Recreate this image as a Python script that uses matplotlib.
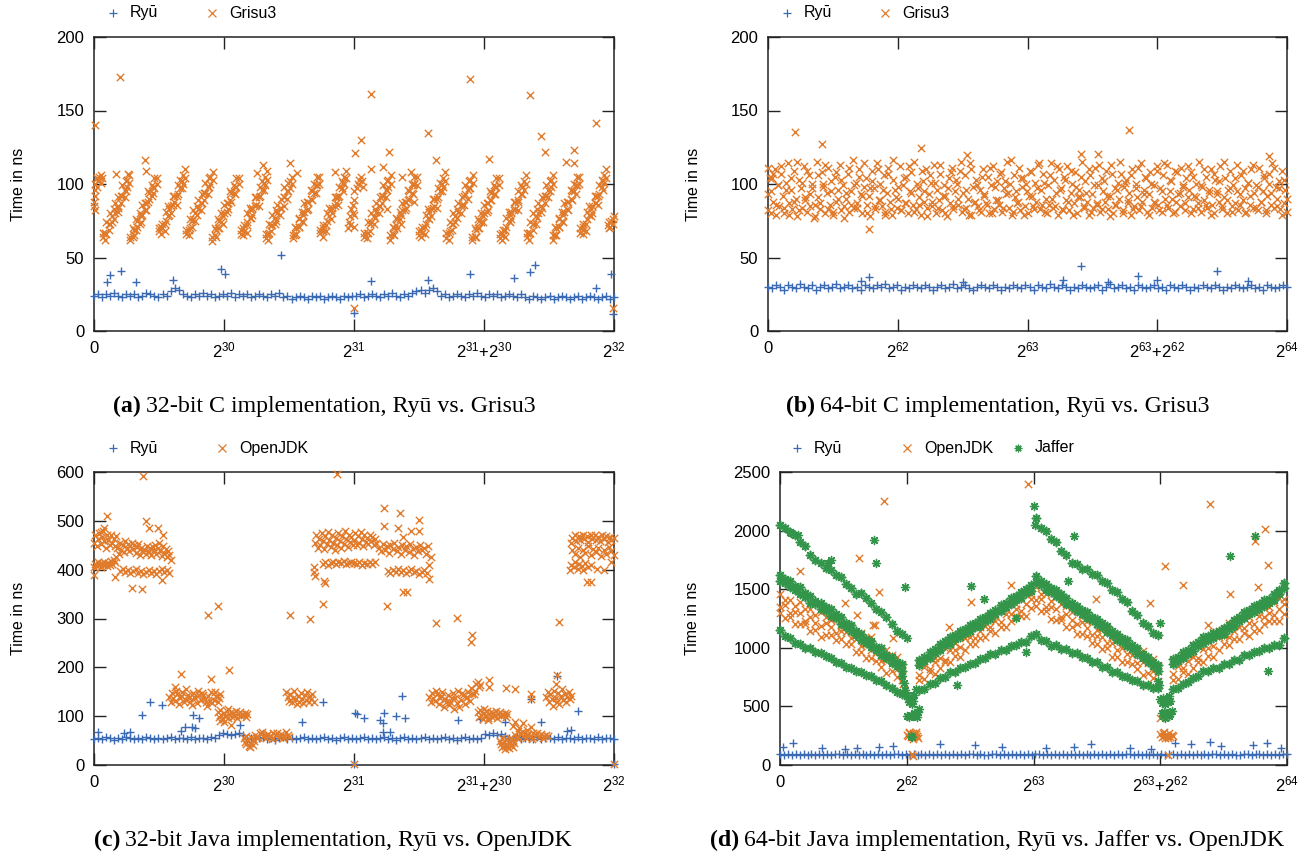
import numpy as np
import matplotlib.pyplot as plt
from matplotlib.lines import Line2D

# ---------------- data (x in units of 2^30 for 32-bit, 2^62 for 64-bit) ----------------
labels_32 = ['0', '$2^{30}$', '$2^{31}$', '$2^{31}$+$2^{30}$', '$2^{32}$']
labels_64 = ['0', '$2^{62}$', '$2^{63}$', '$2^{63}$+$2^{62}$', '$2^{64}$']

# (a) 32-bit C
a_ryu_band = [24,25,23,25,24,26,24,23,25,24,25,23,24,26,25,24,23,25,24,
              27,29,28,
              25,24,23,25,24,26,24,25,23,24,25,24,26,23,25,24,25,23,24,25,24,23,25,24,26,
              23,24,22,23,24,23,22,24,23,24,22,23,24,23,22,24,23,24,
              24,25,23,24,25,24,23,25,24,26,24,23,25,24,
              26,27,28,26,28,29,27,
              24,25,23,24,25,24,23,25,24,26,24,23,25,24,25,23,24,25,24,23,25,
              23,22,24,23,22,23,24,22,23,24,23,22,23,24,22,23,24,23,22,23,24,22,23]
a_ryu_out = [(0.10,33),(0.12,38),(0.205,40.6),(0.32,33),(0.61,34.5),(0.98,42.4),(1.01,38.5),
             (1.44,52),(2.0,12),(2.13,34),(2.57,35),(2.89,39),(3.23,36),(3.35,40),(3.39,44.7),
             (3.86,29.5),(3.98,38.5),(3.99,11.3)]
# each stripe: x positions, upper edge values, lower edge values
a_grisu_stripes = [
    ([.070,.088,.095,.115,.120,.140,.150,.159,.181,.188,.208,.215,.235,.244,.254,.272],
     [67,67,74,73,80,78,83,87,85,91,92,99,96,102,103,106],
     [64,62,66,69,73,74,76,80,81,84,87,92,91,95,98,101]),
    ([.280,.298,.305,.325,.330,.350,.360,.369,.391,.398,.418,.425,.445,.454,.464,.482],
     [64,70,69,76,75,80,78,86,87,87,95,94,99,98,104,104],
     [62,64,65,69,71,73,74,79,82,82,88,90,92,94,97,100]),
    ([.500,.518,.525,.545,.550,.570,.580,.589,.611,.618,.638,.645,.665,.674,.684,.702],
     [70,71,73,73,81,85,83,85,92,92,92,99,103,102,106,110],
     [68,66,70,68,75,78,79,80,86,88,86,93,97,97,100,104]),
    ([.710,.728,.735,.755,.760,.780,.790,.799,.821,.828,.848,.855,.875,.884,.894,.912],
     [69,69,76,75,82,80,85,89,87,93,94,101,98,104,105,108],
     [66,65,70,71,76,75,79,83,82,87,89,94,93,98,100,103]),
    ([.910,.928,.935,.955,.960,.980,.990,.999,1.021,1.028,1.048,1.055,1.075,1.084,1.094,1.112],
     [64,70,69,76,75,80,78,86,87,87,95,94,99,98,104,104],
     [61,65,64,70,70,74,73,80,81,83,89,88,94,93,98,100]),
    ([1.130,1.148,1.155,1.175,1.180,1.200,1.210,1.219,1.241,1.248,1.268,1.275,1.295,1.304,1.314,1.332],
     [69,70,72,72,80,84,82,84,91,91,91,98,102,101,105,109],
     [66,65,68,67,74,77,77,79,85,86,85,92,96,96,99,103]),
    ([1.320,1.338,1.345,1.365,1.370,1.390,1.400,1.409,1.431,1.438,1.458,1.465,1.485,1.494,1.504,1.522],
     [66,66,73,72,79,77,82,86,84,90,91,98,95,101,102,105],
     [63,62,67,68,72,73,75,80,79,84,85,91,90,95,97,100]),
    ([1.530,1.548,1.555,1.575,1.580,1.600,1.610,1.619,1.641,1.648,1.668,1.675,1.695,1.704,1.714,1.732],
     [65,71,70,77,76,81,79,87,88,88,96,95,100,99,105,105],
     [63,65,66,71,71,75,74,81,82,83,90,89,94,94,99,100]),
    ([1.740,1.758,1.765,1.785,1.790,1.810,1.820,1.829,1.851,1.858,1.878,1.885,1.905,1.914,1.924,1.942],
     [69,70,72,72,80,84,82,84,91,91,91,98,102,101,105,109],
     [67,64,68,68,75,78,76,80,85,87,86,92,97,95,100,104]),
    ([2.080,2.098,2.105,2.125,2.130,2.150,2.160,2.169,2.191,2.198,2.218,2.225,2.245,2.254,2.264,2.282],
     [67,67,74,73,80,78,83,87,85,91,92,99,96,102,103,106],
     [64,63,67,68,74,73,77,81,80,85,87,92,91,96,98,100]),
    ([2.280,2.298,2.305,2.325,2.330,2.350,2.360,2.369,2.391,2.398,2.418,2.425,2.445,2.454,2.464,2.482],
     [65,71,70,77,76,81,79,87,88,88,96,95,100,99,105,105],
     [62,66,65,72,70,76,73,82,82,84,89,90,94,93,100,99]),
    ([2.500,2.518,2.525,2.545,2.550,2.570,2.580,2.589,2.611,2.618,2.638,2.645,2.665,2.674,2.684,2.702],
     [68,69,71,71,79,83,81,83,90,90,90,97,101,100,104,108],
     [65,64,67,66,73,77,76,78,84,85,84,91,95,95,98,102]),
    ([2.710,2.728,2.735,2.755,2.760,2.780,2.790,2.799,2.821,2.828,2.848,2.855,2.875,2.884,2.894,2.912],
     [67,67,74,73,80,78,83,87,85,91,92,99,96,102,103,106],
     [63,62,68,69,73,74,77,81,80,86,86,93,90,97,97,101]),
    ([2.910,2.928,2.935,2.955,2.960,2.980,2.990,2.999,3.021,3.028,3.048,3.055,3.075,3.084,3.094,3.112],
     [64,70,69,76,75,80,78,86,87,87,95,94,99,98,104,104],
     [62,64,64,70,70,74,74,80,81,82,89,89,93,93,98,99]),
    ([3.120,3.138,3.145,3.165,3.170,3.190,3.200,3.209,3.231,3.238,3.258,3.265,3.285,3.294,3.304,3.322],
     [66,67,69,69,77,81,79,81,88,88,88,95,99,98,102,106],
     [63,62,65,64,71,75,74,76,82,83,82,89,93,93,96,100]),
    ([3.330,3.348,3.355,3.375,3.380,3.400,3.410,3.419,3.441,3.448,3.468,3.475,3.495,3.504,3.514,3.532],
     [67,67,74,73,80,78,83,87,85,91,92,99,96,102,103,106],
     [64,62,67,69,73,73,77,80,81,84,87,92,91,95,98,100]),
    ([3.530,3.548,3.555,3.575,3.580,3.600,3.610,3.619,3.641,3.648,3.668,3.675,3.695,3.704,3.714,3.732],
     [65,71,70,77,76,81,79,87,88,88,96,95,100,99,105,105],
     [62,65,65,71,71,75,74,81,83,82,90,89,95,93,99,100]),
    ([3.740,3.758,3.765,3.785,3.790,3.810,3.820,3.829,3.851,3.858,3.878,3.885,3.905,3.914,3.924,3.942],
     [70,71,73,73,81,85,83,85,92,92,92,99,103,102,106,110],
     [67,66,69,68,76,79,78,80,87,87,86,93,98,96,101,104]),
]
a_grisu_extra = [(0.0,85),(0.0,88),(0.005,82),(0.005,92),(0.01,96),(0.01,100),(0.02,104),(0.02,98),
                 (0.03,102),(0.035,105),(0.04,103),(0.05,106),(0.055,101),(0.06,104),
                 (1.95,70),(1.96,74),(1.97,78),(1.98,83),(1.99,86),(2.0,89),(2.0,95),(2.02,97),
                 (2.03,100),(2.04,103),(2.05,105),(2.06,102),(2.07,98),(1.97,72),(1.99,80),
                 (3.95,72),(3.96,74),(3.97,71),(3.98,75),(3.99,73),(4.0,78),(3.96,70),(3.99,76),
                 (0.01,140),(0.2,172.8),(0.39,116.5),(0.40,109),(1.51,114),(1.25,107.5),(1.30,113),
                 (2.01,121),(2.05,130),(2.13,161),(2.13,110),(2.27,122),(2.22,111.5),(2.57,135),
                 (2.63,116),(2.89,171.7),(3.04,116.8),(3.35,160.8),(3.44,132.7),(3.47,121.8),
                 (3.69,123),(3.63,115),(3.69,114.5),(3.86,141.7),(2.0,15.9),(3.99,15.9),
                 (2.0,71),(2.0,79),(0.17,107),(0.26,107),(1.85,108),(1.56,107.5),(2.25,83),
                 (2.37,105),(2.44,108),(2.46,88)]

# (b) 64-bit C
b_ryu_band = [30,29,31,30,28,31,30,29,32,30,29,31,28,30,31,29,30,32,29,30,
              31,29,30,28,31,30,29,31,30,32,29,30,31,28,30,29,31,30,29,31,
              30,28,30,31,29,30,32,29,30,31,29,28,30,31,30,29,31,30,28,30,
              29,31,30,29,31,30,28,31,30,29,32,30,29,31,30,28,30,29,31,30,
              29,30,31,28,30,32,29,30,31,29,30,28,31,30,29,30,31,29,30,28,
              31,30,29,31,30,28,30,29,31,30,29,31,30,28,30,29,31,30,29,30,
              31,29,30,28,31,30,29,30,31,30]
b_ryu_out = [(0.78,36.7),(2.41,44),(2.85,37.6),(3.46,40.8),(2.27,35),(3.0,34.5),(2.62,33),
             (0.72,34),(1.5,33),(3.7,34)]
b_grisu_cloud = [82,104,95,88,110,79,99,85,107,92,80,101,114,87,96,83,109,90,78,103,
                 97,84,112,89,81,106,93,100,77,86,115,91,83,108,98,80,94,111,86,102,
                 79,105,88,96,113,82,99,85,90,107,81,95,116,84,101,87,110,93,80,98,
                 104,86,92,78,109,97,83,114,89,100,85,106,81,94,111,88,79,103,96,84,
                 90,112,82,99,87,105,80,95,108,86,115,83,97,91,79,102,88,110,84,93,
                 101,85,113,80,96,89,107,82,99,92,78,104,87,111,83,95,100,86,109,81,
                 94,106,84,90,114,79,98,88,103,85,96,81,110,92,87,105,80,99,112,83,
                 89,102,86,108,81,97,93,115,84,100,79,106,91,87,111,82,98,104,85,95,
                 80,109,92,85,101,88,113,83,96,107,81,90,99,86,114,84,103,94,79,110,
                 97,83,105,89,112,82,94,100,87,108,80,96,91,115,85,102,88,79,106,93,
                 84,111,86,99,81,104,95,88,109,83,92,113,80,97,86,101,90,107,82,98,
                 103,87,94,79,110,85,100,91,82,114,88,96,105,81,93,108,84,99,87,112,
                 86,97,81,106,90,113,84,95,102,80,109,88,93,85,111,99,82,104,91,96,
                 108,83,92,100,87,115,81,98,89,105,84,94,110,86,80,103,95,88,112,85,
                 91,104,80,96,109,85,99,87,113,82,93,106,89,97,81,101,86,110,84,94,
                 99,82,111,88,95,104,80,92,107,86,114,84,98,90,102,83,109,87,96,81]
b_grisu_cloud2 = [93,80,107,86,99,112,84,96,79,104,88,115,82,101,91,109,85,97,78,106,
                  87,100,113,83,95,81,108,90,103,77,94,111,86,99,84,105,92,114,80,97,
                  102,85,110,89,96,79,107,83,116,91,98,82,104,87,112,94,81,100,86,109,
                  95,78,106,88,101,84,113,92,80,97,108,85,103,90,115,83,96,79,110,87,
                  99,82,105,93,86,111,80,98,89,107,84,102,94,116,81,95,88,104,79,100,
                  92,108,83,97,114,86,101,80,106,90,85,112,96,82,103,88,109,79,98,91,
                  105,84,94,110,81,99,87,113,83,102,92,78,107,86,96,115,80,101,89,106,
                  83,97,111,85,93,104,79,100,88,109,82,95,114,86,103,90,81,108,94,98,
                  87,112,80,105,91,84,99,110,86,96,79,107,93,102,83,115,89,97,81,104,
                  95,86,109,80,101,92,113,84,98,88,106,82,100,94,111,85,97,79,103,90]
b_grisu_out = [(0.21,135.4),(0.42,127),(1.18,124.7),(1.53,120),(2.78,137),(3.86,119),(0.78,69.4),
               (2.54,120.6),(2.41,120.6),(0.0,111),(0.03,104)]

# (c) 32-bit Java
c_ryu_band = [54,56,53,57,55,52,56,54,58,55,53,56,54,57,55,53,56,54,55,57,53,56,55,54,57,53,55,56,54,57,55,
              62,65,63,61,64,66,62,
              54,56,53,55,57,54,56,52,55,57,54,56,53,55,58,54,56,53,55,57,
              54,56,52,55,57,54,56,53,55,58,54,56,53,55,57,54,56,52,55,57,
              54,56,53,55,58,54,56,53,55,57,54,56,52,55,57,54,56,53,55,
              63,61,65,62,64,60,
              55,54,57,53,56,55,54,57,53,56,55,54,57,53,56,55,54,57,53,56,55,54,57,53,56,55,54]
c_ryu_out = [(0.03,68),(0.23,65),(0.28,67),(0.37,102),(0.43,128),(0.52,123),(0.67,69.5),(0.7,78),
             (0.75,78),(0.78,75),(0.76,102),(0.81,97),(1.12,82),(1.6,88.5),(1.76,129),(2.01,105.6),
             (2.02,105),(2.08,97),(2.2,92),(2.22,85),(2.23,105.6),(2.32,101),(2.39,97),(2.37,142),
             (2.22,67),(2.28,68),(2.8,92),(2.97,95),(3.16,88.5),(3.36,135),(3.44,88.5),(3.56,182.6),
             (3.72,111),(3.64,69.5),(3.67,71),(2.0,3),(4.0,3)]
c_jdk = [
    (0.00,455),(0.01,470),(0.02,448),(0.03,462),(0.04,475),(0.05,452),(0.06,466),(0.07,480),(0.08,458),
    (0.09,445),(0.10,470),(0.11,460),(0.12,450),(0.13,472),(0.14,455),(0.15,463),(0.16,448),(0.17,468),
    (0.18,445),(0.19,432),(0.20,455),(0.21,440),(0.22,450),(0.23,436),(0.24,458),(0.25,445),(0.26,452),
    (0.27,438),(0.28,448),(0.29,455),(0.30,442),(0.31,450),(0.32,435),(0.33,446),(0.34,452),(0.35,430),
    (0.36,445),(0.37,438),(0.39,440),(0.40,432),(0.41,448),(0.42,436),(0.43,444),(0.44,430),(0.45,446),
    (0.46,440),(0.47,450),(0.48,432),(0.49,445),(0.50,455),(0.51,438),(0.52,428),(0.53,448),(0.54,435),
    (0.55,442),(0.56,425),(0.57,438),(0.58,430),(0.59,420),
    (0.00,405),(0.01,412),(0.02,408),(0.03,415),(0.04,410),(0.05,406),(0.06,413),(0.07,409),(0.08,416),
    (0.09,411),(0.10,407),(0.11,414),(0.12,410),(0.13,418),(0.14,412),(0.15,420),(0.16,415),(0.17,425),
    (0.20,398),(0.22,402),(0.24,395),(0.26,399),(0.28,393),(0.30,397),(0.32,401),(0.34,394),(0.36,398),
    (0.38,392),(0.40,396),(0.42,400),(0.44,394),(0.46,398),(0.48,392),(0.50,397),(0.52,401),(0.54,395),
    (0.56,399),(0.58,393),
    (0.10,510),(0.38,591),(0.40,499),(0.42,485),(0.49,485),(0.53,470),(0.16,386),(0.29,362),(0.37,361),
    (0.52,378),(0.0,390),(0.88,308),(0.95,325),(0.05,478),(0.08,485),
    (0.58,140),(0.60,148),(0.62,132),(0.64,145),(0.66,138),(0.68,150),(0.70,135),(0.72,143),(0.74,130),
    (0.76,147),(0.78,137),(0.80,152),(0.82,133),(0.84,144),(0.86,128),(0.88,141),(0.90,149),(0.92,134),
    (0.94,142),(0.96,137),
    (0.59,128),(0.61,137),(0.63,152),(0.65,125),(0.67,142),(0.69,130),(0.71,155),(0.73,138),(0.75,122),
    (0.77,140),(0.79,127),(0.81,143),(0.83,148),(0.85,136),(0.87,120),(0.89,132),(0.91,127),(0.93,150),
    (0.95,130),(0.97,145),(0.67,187),(0.90,176),(0.62,159),
    (0.95,108),(0.96,98),(0.97,112),(0.98,103),(0.99,95),(1.00,107),(1.01,100),(1.02,110),(1.03,96),
    (1.04,104),(1.05,108),(1.06,99),(1.07,106),(1.08,101),(1.09,110),(1.10,97),(1.11,104),(1.12,108),
    (1.13,100),(1.14,105),(1.15,102),(1.16,107),(1.17,98),(1.18,104),(0.97,90),(1.00,88),(1.03,114),
    (1.04,194),(1.05,82),
    (1.15,55),(1.16,48),(1.17,42),(1.18,52),(1.19,38),(1.20,45),(1.21,58),(1.22,41),(1.23,50),(1.17,60),
    (1.20,36),(1.22,54),
    (1.24,62),(1.26,58),(1.28,65),(1.30,60),(1.32,56),(1.34,63),(1.36,59),(1.38,66),(1.40,61),(1.42,57),
    (1.44,64),(1.46,60),(1.48,67),(1.50,58),(1.25,55),(1.29,68),(1.33,61),(1.37,54),(1.41,65),(1.45,56),
    (1.49,62),
    (1.48,150),(1.49,140),(1.50,132),(1.51,145),(1.52,128),(1.53,138),(1.54,152),(1.55,135),(1.56,125),
    (1.57,142),(1.58,130),(1.59,147),(1.60,136),(1.61,126),(1.62,143),(1.63,133),(1.64,150),(1.65,128),
    (1.66,140),(1.67,135),(1.68,145),(1.69,130),(1.51,308),(1.66,300),
    (1.70,455),(1.71,470),(1.72,445),(1.73,462),(1.74,450),(1.75,475),(1.76,458),(1.77,442),(1.78,468),
    (1.79,452),(1.80,478),(1.81,460),(1.82,446),(1.83,470),(1.84,455),(1.85,440),(1.86,465),(1.87,450),
    (1.88,475),(1.89,458),(1.90,444),(1.91,468),(1.92,452),(1.93,480),(1.94,462),(1.95,447),(1.96,472),
    (1.97,456),(1.98,466),(1.99,450),
    (1.76,412),(1.78,415),(1.80,410),(1.82,414),(1.84,416),(1.86,411),(1.88,415),(1.90,413),(1.92,417),
    (1.94,412),(1.96,414),(1.98,416),(2.00,413),
    (1.69,395),(1.69,405),(1.76,330),(1.77,376),(1.87,595),(1.70,388),(1.78,372),
    (2.00,460),(2.01,475),(2.02,450),(2.03,468),(2.04,455),(2.05,478),(2.06,462),(2.07,448),(2.08,470),
    (2.09,456),(2.10,465),(2.11,452),(2.12,472),(2.13,458),(2.14,466),(2.15,450),(2.16,462),(2.17,455),
    (2.02,412),(2.04,415),(2.06,410),(2.08,414),(2.10,411),(2.12,415),(2.14,412),(2.16,416),
    (2.19,445),(2.21,438),(2.22,452),(2.24,440),(2.25,448),(2.27,435),(2.28,450),(2.30,442),(2.31,455),
    (2.33,438),(2.34,446),(2.36,432),(2.37,450),(2.39,440),(2.40,448),(2.42,436),(2.43,452),(2.45,442),
    (2.46,430),(2.48,446),(2.49,438),(2.51,450),(2.52,440),(2.54,445),(2.55,433),(2.57,448),
    (2.26,398),(2.28,394),(2.30,400),(2.32,396),(2.34,401),(2.36,395),(2.38,399),(2.40,393),(2.42,397),
    (2.44,401),(2.46,395),(2.48,398),(2.50,392),(2.52,396),(2.54,400),(2.56,394),
    (2.23,526),(2.35,516),(2.23,489),(2.34,485),(2.44,480),(2.50,501),(2.50,480),(2.38,467),(2.38,354),
    (2.41,354),(2.25,325),(2.58,380),(2.58,409),(2.59,426),(2.63,290),(2.79,302),(2.91,266),(2.90,251),
    (2.58,140),(2.60,148),(2.62,132),(2.64,145),(2.66,138),(2.68,150),(2.70,135),(2.72,143),(2.74,130),
    (2.76,147),(2.78,137),(2.80,152),(2.82,133),(2.84,144),(2.86,138),(2.88,150),(2.90,158),(2.92,145),
    (2.94,165),(2.96,160),
    (2.59,128),(2.61,137),(2.63,152),(2.65,125),(2.67,142),(2.69,118),(2.71,130),(2.73,122),(2.75,138),
    (2.77,115),(2.79,127),(2.81,118),(2.83,148),(2.85,125),(2.87,140),(2.89,132),(2.91,145),(2.93,152),
    (2.95,170),(2.97,163),(3.04,174),(3.04,160),(3.17,158),(3.24,155),
    (2.95,108),(2.96,98),(2.97,112),(2.98,103),(2.99,95),(3.00,107),(3.01,100),(3.02,110),(3.03,96),
    (3.04,104),(3.05,108),(3.06,99),(3.07,106),(3.08,101),(3.09,110),(3.10,97),(3.11,104),(3.12,108),
    (3.13,100),(3.14,105),(3.15,102),(3.16,107),(3.17,98),(3.18,104),(3.00,115),(3.03,92),
    (3.12,50),(3.13,42),(3.14,36),(3.15,47),(3.16,39),(3.17,53),(3.18,44),(3.19,35),(3.20,48),(3.21,40),
    (3.22,52),(3.23,45),(3.14,55),(3.16,33),(3.18,38),(3.20,56),(3.22,37),
    (3.24,62),(3.26,58),(3.28,65),(3.30,60),(3.32,56),(3.34,63),(3.36,59),(3.38,66),(3.40,61),(3.42,57),
    (3.44,64),(3.46,60),(3.48,62),(3.25,55),(3.29,68),(3.33,61),(3.37,54),(3.41,65),(3.45,56),(3.49,59),
    (3.22,80),(3.24,88),(3.27,75),(3.30,85),(3.33,72),(3.36,78),(3.26,70),
    (3.48,140),(3.49,150),(3.50,128),(3.51,145),(3.52,135),(3.53,120),(3.54,152),(3.55,138),(3.56,130),
    (3.57,147),(3.58,125),(3.59,142),(3.60,155),(3.61,133),(3.62,145),(3.63,128),(3.64,140),(3.65,150),
    (3.66,135),(3.67,142),(3.58,293),(3.56,184),(3.36,146),(3.36,136),(3.55,165),
    (3.67,455),(3.68,465),(3.70,470),(3.71,458),(3.73,468),(3.74,460),(3.76,472),(3.77,462),(3.79,468),
    (3.80,457),(3.82,470),(3.83,463),(3.85,472),(3.86,460),(3.88,467),(3.89,458),(3.91,470),(3.92,462),
    (3.94,468),(3.95,457),(3.97,466),(3.98,460),(4.00,465),
    (3.68,440),(3.70,432),(3.72,445),(3.74,425),(3.76,440),(3.78,435),(3.80,448),(3.82,430),(3.84,442),
    (3.86,436),(3.88,445),(3.90,428),(3.92,440),(3.94,433),(3.96,446),(3.98,438),(4.00,430),
    (3.66,400),(3.67,410),(3.69,405),(3.70,415),(3.72,402),(3.73,412),(3.75,408),(3.76,400),(3.78,414),
    (3.80,406),(3.82,410),(3.79,375),(3.82,375),(3.87,402),(3.98,415),(3.92,400),
    (2.0,2),(4.0,2)]

# (d) 64-bit Java
d_ryu_band = [90,85,95,88,92,84,97,89,91,86,94,88,93,83,96,90,87,92,85,95,
              89,93,86,91,84,96,88,92,87,94,90,85,93,89,91,86,95,88,92,84,
              97,89,90,86,94,88,93,85,91,96,87,92,89,84,95,90,86,93,88,91,
              85,94,89,92,87,96,90,84,93,88,91,86,95,89,92,85,94,88,90,87,
              93,89,96,84,91,88,92,86,95,90,87,93,85,94,89,91,88,96,86,92,
              90,84,95,88,93,87,91,89,94,85,92,90,86,96,88,93,89,85,91,94,
              87,92,90,88,95,86,91,89,93,90]
d_ryu_out = [(0.1,185),(0.02,155),(0.33,142),(0.51,133),(0.61,142),(0.78,156),(0.89,162),(1.26,179),
             (1.54,170),(1.75,156),(2.1,142),(2.32,156),(2.45,179),(2.76,142),(2.93,133),(3.12,185),
             (3.24,176),(3.39,199),(3.48,162),(3.73,170),(3.84,185),(3.95,142)]
d_u1 = [0.00,0.04,0.08,0.12,0.16,0.20,0.24,0.28,0.32,0.36,0.40,0.44,0.48,0.52,0.56,0.60,0.64,0.68,
        0.72,0.76,0.80,0.84,0.88,0.92,0.96]
d_u2 = [1.10,1.14,1.18,1.22,1.26,1.30,1.34,1.38,1.42,1.46,1.50,1.54,1.58,1.62,1.66,1.70,1.74,1.78,
        1.82,1.86,1.90,1.94,1.98]
d_u3 = [2.02,2.06,2.10,2.14,2.18,2.22,2.26,2.30,2.34,2.38,2.42,2.46,2.50,2.54,2.58,2.62,2.66,2.70,
        2.74,2.78,2.82,2.86,2.90,2.94,2.98]
d_u4 = [3.10,3.14,3.18,3.22,3.26,3.30,3.34,3.38,3.42,3.46,3.50,3.54,3.58,3.62,3.66,3.70,3.74,3.78,
        3.82,3.86,3.90,3.94,3.98]
d_jdk_leg1 = [[1460,1405,1405,1355,1390,1335,1330,1280,1305,1265,1240,1250,1190,1200,1190,1125,1125,1085,1090,1010,1000,985,935,920,855],
              [1350,1365,1300,1305,1295,1230,1260,1215,1185,1215,1180,1130,1140,1135,1080,1075,1015,1035,980,960,890,895,885,820,810],
              [1295,1255,1265,1200,1200,1200,1145,1150,1095,1110,1110,1065,1075,1030,1035,960,960,915,915,890,835,785,800,755,725]]
d_jdk_leg2 = [[870,865,915,915,1000,995,1040,1040,1115,1120,1140,1195,1180,1240,1280,1270,1320,1330,1385,1370,1415,1455,1455],
              [770,835,820,875,915,900,980,985,1005,1080,1090,1085,1140,1185,1180,1230,1220,1290,1285,1330,1315,1375,1415],
              [725,735,795,780,830,880,875,930,925,985,1030,1030,1085,1090,1145,1125,1175,1180,1230,1270,1270,1275,1340]]
d_jdk_leg3 = [[1520,1460,1455,1400,1430,1370,1360,1305,1325,1270,1230,1225,1150,1160,1150,1090,1090,1050,1055,985,980,970,920,905,845],
              [1410,1420,1350,1350,1335,1265,1290,1240,1205,1220,1170,1105,1100,1095,1040,1040,980,1000,945,935,870,880,870,805,800],
              [1355,1310,1315,1245,1240,1235,1175,1175,1115,1115,1100,1040,1035,990,995,925,925,880,880,865,815,770,785,740,715]]
d_jdk_leg4 = [[890,885,935,935,1020,1015,1060,1060,1135,1140,1160,1210,1190,1245,1280,1265,1310,1320,1375,1350,1390,1425,1420],
              [780,845,830,885,925,910,990,995,1015,1090,1100,1090,1140,1180,1170,1215,1200,1270,1265,1300,1280,1335,1370],
              [725,735,795,780,830,880,875,930,925,985,1030,1025,1075,1075,1125,1100,1145,1150,1200,1230,1225,1225,1285]]
d_jdk_extra = [(1.00,260),(1.01,245),(1.02,270),(1.03,235),(1.04,255),(1.05,275),(1.06,240),(1.07,262),
               (1.08,250),(1.09,230),(1.02,285),(1.05,225),(1.07,280),(1.05,75),(1.04,90),
               (0.97,690),(0.98,650),(0.99,600),
               (3.00,265),(3.01,240),(3.02,275),(3.03,250),(3.04,230),(3.05,260),(3.06,245),(3.07,270),
               (3.08,235),(3.09,255),(3.10,248),(3.03,285),(3.06,228),(3.00,400),(3.06,85),
               (0.82,2255),(0.62,1765),(0.16,1655),(0.51,1380),(0.78,1480),(0.75,1195),(1.33,1180),
               (1.51,1390),(1.82,1540),(1.96,2395),(2.49,1420),(2.92,1380),(3.04,1700),(3.18,1540),
               (3.39,2225),(3.83,2015),(3.75,1910),(3.85,1705),(3.77,1520),(3.55,1455),(3.38,1195),
               (0.61,1280),(0.73,1195),(0.89,1080)]
d_jaffer_leg1 = [[2050,2020,1990,1965,1905,1865,1795,1745,1725,1685,1665,1625,1605,1545,1510,1455,1470,1425,1385,1335,1305,1260,1205,1145,1115],
                 [1625,1590,1570,1530,1515,1470,1440,1400,1385,1345,1330,1285,1260,1215,1195,1140,1120,1075,1060,1010,995,940,925,875,860],
                 [1570,1555,1515,1495,1460,1435,1385,1370,1330,1310,1275,1255,1205,1180,1140,1110,1065,1045,1005,980,940,910,870,845,805],
                 [1150,1100,1080,1040,1030,1000,995,965,955,930,915,880,870,840,830,805,795,770,760,725,715,680,660,620,605]]
d_jaffer_leg2 = [[895,920,965,990,1035,1055,1090,1110,1145,1160,1195,1210,1245,1260,1300,1320,1365,1385,1425,1440,1480,1500,1540],
                 [850,885,910,955,980,1020,1035,1075,1090,1125,1140,1175,1190,1225,1245,1285,1310,1350,1370,1405,1425,1465,1485],
                 [640,650,690,700,740,750,790,795,830,835,865,870,905,915,950,950,985,985,1015,1020,1050,1050,1100]]
d_jaffer_leg3 = [[2110,2020,1995,1930,1900,1830,1795,1720,1715,1670,1670,1630,1620,1570,1550,1495,1480,1420,1390,1310,1280,1215,1190,1130,1110],
                 [1610,1570,1545,1510,1490,1455,1425,1385,1360,1320,1305,1265,1250,1210,1185,1140,1120,1085,1065,1025,995,950,925,875,855],
                 [1560,1535,1495,1475,1440,1420,1375,1350,1310,1285,1255,1235,1200,1180,1135,1105,1070,1050,1015,990,945,915,875,845,805],
                 [1115,1065,1060,1015,1020,990,990,955,958,920,915,878,875,838,832,795,790,758,755,725,718,680,682,655,655]]
d_jaffer_leg4 = [[905,925,965,985,1025,1050,1090,1100,1130,1140,1170,1195,1240,1265,1305,1320,1355,1370,1405,1420,1455,1490,1555],
                 [860,890,915,950,975,1015,1040,1065,1080,1105,1120,1160,1190,1230,1255,1285,1305,1335,1355,1385,1405,1455,1510],
                 [650,655,695,705,745,760,800,800,830,830,860,865,900,900,935,935,965,970,1000,1000,1025,1025,1085]]
d_jaffer_extra = [(0.96,760),(0.98,700),(0.99,640),(1.00,600),(1.01,560),(1.02,540),(1.03,580),(1.04,520),
                  (1.05,550),(1.06,600),(1.07,650),(1.00,420),(1.02,410),(1.03,430),(1.05,415),(1.06,440),
                  (1.07,425),(1.08,410),(1.09,450),(1.10,480),(1.03,250),(1.04,240),(1.00,1085),
                  (3.00,560),(3.01,530),(3.02,575),(3.03,545),(3.04,520),(3.05,565),(3.06,540),(3.07,585),
                  (3.08,550),(3.01,440),(3.02,420),(3.03,455),(3.04,405),(3.05,430),(3.06,445),(3.07,415),
                  (3.08,435),(3.09,460),(2.99,680),(2.98,720),(3.0,1210),(2.00,2210),(2.01,2048),
                  (0.74,1920),(0.76,1720),(0.99,1515),(1.51,1525),(1.61,1420),(1.40,683),(1.94,967),
                  (1.86,1251),(2.32,1950),(2.27,1570),(3.75,1950),(3.55,1780),(3.85,800),(0.38,1720),
                  (0.40,1750),(0.09,1980),(0.14,1960)]

captions = [('(a)', '32-bit C implementation, Ryū vs. Grisu3'),
            ('(b)', '64-bit C implementation, Ryū vs. Grisu3'),
            ('(c)', '32-bit Java implementation, Ryū vs. OpenJDK'),
            ('(d)', '64-bit Java implementation, Ryū vs. Jaffer vs. OpenJDK')]

# ---------------- style ----------------
plt.rcParams['font.family'] = ['Liberation Sans', 'DejaVu Sans']
plt.rcParams['mathtext.default'] = 'regular'
BLUE = '#3b6ab4'
ORANGE = '#e07b2c'
GREEN = '#32954a'
STAR = (8, 2, 0)
S_PLUS, S_X, S_STAR = 34, 28, 34

W, H = 1308, 857
fig = plt.figure(figsize=(W / 100, H / 100), dpi=100)


def add_axes(l, t, r, b):
    return fig.add_axes([l / W, 1 - b / H, (r - l) / W, (b - t) / H])


def style(ax, ymax, ystep, labels, ylab_x):
    ax.set_xlim(0, 4)
    ax.set_ylim(0, ymax)
    ax.set_xticks([0, 1, 2, 3, 4])
    ax.set_xticklabels(labels)
    ax.set_yticks(np.arange(0, ymax + 1, ystep))
    ax.tick_params(direction='in', length=8.5, width=1.0, top=True, right=True,
                   labelsize=12, pad=7, colors='#222222', labelcolor='black')
    for s in ax.spines.values():
        s.set_linewidth(1.1)
        s.set_color('#222222')
    ax.set_ylabel('Time in ns', fontsize=11.5)
    ax.yaxis.set_label_coords(ylab_x, 0.5)


def pts(ax, data, marker, color, s):
    x, y = zip(*data)
    ax.scatter(x, y, marker=marker, c=color, s=s, linewidths=1.0, clip_on=False, zorder=3)


def band(ax, values, marker, color, s):
    ax.scatter(np.linspace(0, 4, len(values)), values, marker=marker, c=color, s=s,
               linewidths=1.0, clip_on=False, zorder=3)


def legend_item(x_px, y_px, marker, color, label):
    fig.add_artist(Line2D([x_px / W], [1 - y_px / H], marker=marker, color=color, ms=5.5,
                          mew=0.9, ls='none', transform=fig.transFigure))
    fig.text((x_px + 17) / W, 1 - y_px / H, label, fontsize=11.5, va='center', ha='left')


ax_a = add_axes(94, 37, 614, 331)
ax_b = add_axes(768, 37, 1287, 331)
ax_c = add_axes(94, 472, 614, 765)
ax_d = add_axes(780, 472, 1287, 765)

# (a)
band(ax_a, a_ryu_band, '+', BLUE, S_PLUS)
pts(ax_a, a_ryu_out, '+', BLUE, S_PLUS)
for xs, ys, ys2 in a_grisu_stripes:
    for yy in (ys, ys2):
        ax_a.scatter(xs, yy, marker='x', c=ORANGE, s=S_X, linewidths=1.0, clip_on=False, zorder=3)
pts(ax_a, a_grisu_extra, 'x', ORANGE, S_X)
style(ax_a, 200, 50, labels_32, -0.13)

# (b)
band(ax_b, b_ryu_band, '+', BLUE, S_PLUS)
pts(ax_b, b_ryu_out, '+', BLUE, S_PLUS)
band(ax_b, b_grisu_cloud, 'x', ORANGE, S_X)
band(ax_b, b_grisu_cloud2, 'x', ORANGE, S_X)
pts(ax_b, b_grisu_out, 'x', ORANGE, S_X)
style(ax_b, 200, 50, labels_64, -0.13)

# (c)
band(ax_c, c_ryu_band, '+', BLUE, S_PLUS)
pts(ax_c, c_ryu_out, '+', BLUE, S_PLUS)
pts(ax_c, c_jdk, 'x', ORANGE, S_X)
style(ax_c, 600, 100, labels_32, -0.13)

# (d)
band(ax_d, d_ryu_band, '+', BLUE, S_PLUS)
pts(ax_d, d_ryu_out, '+', BLUE, S_PLUS)
for u, rows in [(d_u1, d_jdk_leg1), (d_u2, d_jdk_leg2), (d_u3, d_jdk_leg3), (d_u4, d_jdk_leg4)]:
    for row in rows:
        ax_d.scatter(u, row, marker='x', c=ORANGE, s=S_X, linewidths=1.0, clip_on=False, zorder=3)
pts(ax_d, d_jdk_extra, 'x', ORANGE, S_X)
for u, rows in [(d_u1, d_jaffer_leg1), (d_u2, d_jaffer_leg2), (d_u3, d_jaffer_leg3), (d_u4, d_jaffer_leg4)]:
    for row in rows:
        ax_d.scatter(u, row, marker=STAR, c=GREEN, s=S_STAR, linewidths=1.2, clip_on=False, zorder=3)
pts(ax_d, d_jaffer_extra, STAR, GREEN, S_STAR)
style(ax_d, 2500, 500, labels_64, -0.158)

# legends
legend_item(113, 13, '+', BLUE, 'Ryū')
legend_item(212, 13, 'x', ORANGE, 'Grisu3')
legend_item(787, 13, '+', BLUE, 'Ryū')
legend_item(885, 13, 'x', ORANGE, 'Grisu3')
legend_item(113, 448, '+', BLUE, 'Ryū')
legend_item(222, 448, 'x', ORANGE, 'OpenJDK')
legend_item(797, 448, '+', BLUE, 'Ryū')
legend_item(907, 448, 'x', ORANGE, 'OpenJDK')
legend_item(1018, 448, STAR, GREEN, 'Jaffer')

# captions, centred under each panel
renderer = fig.canvas.get_renderer()
cap_pos = [(324, 412), (998, 412), (333, 846), (997, 846)]
for (tag, rest), (cx, cy) in zip(captions, cap_pos):
    t1 = fig.text(0, 1 - cy / H, tag, fontsize=17.2, fontweight='bold',
                  family=['Liberation Serif', 'DejaVu Serif'], va='baseline')
    t2 = fig.text(0, 1 - cy / H, rest, fontsize=17.2,
                  family=['Liberation Serif', 'DejaVu Serif'], va='baseline')
    w1 = t1.get_window_extent(renderer).width
    w2 = t2.get_window_extent(renderer).width
    gap = 5
    x0 = cx - (w1 + gap + w2) / 2
    t1.set_x(x0 / W)
    t2.set_x((x0 + w1 + gap) / W)

fig.savefig('out.png', dpi=100)
